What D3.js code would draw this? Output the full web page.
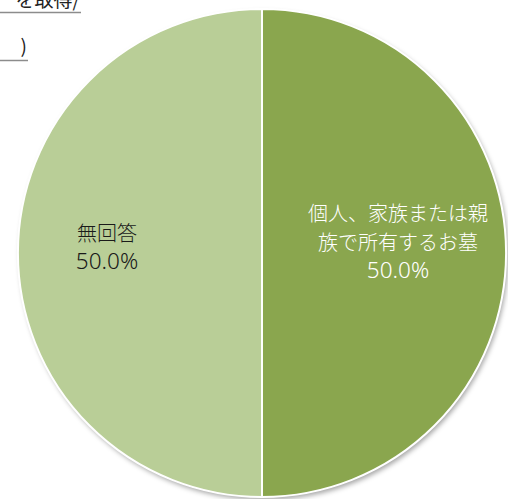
<!DOCTYPE html>
<html><head><meta charset="utf-8">
<script src="https://cdn.jsdelivr.net/npm/d3@7"></script>
<style>
html,body{margin:0;padding:0;background:#fff;}
svg{display:block;}
text{font-family:"Noto Sans CJK JP","Noto Sans",sans-serif;}
.pct{font-family:"Noto Sans","DejaVu Sans",sans-serif;}
</style></head>
<body>
<svg id="chart" width="508" height="499"></svg>
<script>
const categories = ["個人、家族または親族で所有するお墓", "無回答"];
const values = [50.0, 50.0];
const labelLines = [["個人、家族または親", "族で所有するお墓"], ["無回答"]];
const colors = ["#8aa64e", "#b9ce97"];
const titleLines = ["を取得/", ")"];

const svg = d3.select("#chart");
const defs = svg.append("defs");
const f = defs.append("filter").attr("id","sh").attr("x","-10%").attr("y","-10%").attr("width","120%").attr("height","120%");
f.append("feDropShadow").attr("dx",2).attr("dy",3).attr("stdDeviation",2.5).attr("flood-color","#000").attr("flood-opacity",0.35);

const cx = 262, cy = 253, r = 244;
const pie = d3.pie().sort(null).value(d => d);
const arcs = pie(values);
const arc = d3.arc().innerRadius(0).outerRadius(r);
const g = svg.append("g").attr("transform", `translate(${cx},${cy})`);
g.append("circle").attr("r", r).attr("fill","#fff").attr("filter","url(#sh)");
g.selectAll("path.s").data(arcs).join("path").attr("class","s")
  .attr("d", arc).attr("fill", (d,i) => colors[i])
  .attr("stroke","#fff").attr("stroke-width",2);

const labelPos = [[136, -32], [-155, -12]];
const textColors = ["#ffffff", "#1a1a1a"];
arcs.forEach((a,i) => {
  const t = g.append("text").attr("text-anchor","middle").attr("fill", textColors[i])
    .attr("font-size", 20).attr("font-weight", 300);
  labelLines[i].forEach((l,j) => {
    t.append("tspan").attr("x", labelPos[i][0]).attr("y", labelPos[i][1] + j*28.5).text(l);
  });
  t.append("tspan").attr("class","pct").attr("font-size",22.5).attr("font-weight",300)
    .attr("x", labelPos[i][0]).attr("y", labelPos[i][1] + labelLines[i].length*28.5 - 0.5)
    .text(d3.format(".1f")(a.data) + "%");
});

// cut-off title at top-left
const tt = svg.append("g");
tt.append("text").attr("x", 80).attr("y", 7).attr("text-anchor","end").attr("font-size",19).attr("fill","#222").text(titleLines[0]);
tt.append("line").attr("x1",0).attr("x2",81).attr("y1",12.5).attr("y2",12.5).attr("stroke","#8c8c8c").attr("stroke-width",1.5);
tt.append("text").attr("x", 27).attr("y", 53).attr("text-anchor","end").attr("font-size",19).attr("fill","#222").text(titleLines[1]);
tt.append("line").attr("x1",0).attr("x2",28).attr("y1",60.5).attr("y2",60.5).attr("stroke","#8c8c8c").attr("stroke-width",1.5);
</script>
</body></html>
